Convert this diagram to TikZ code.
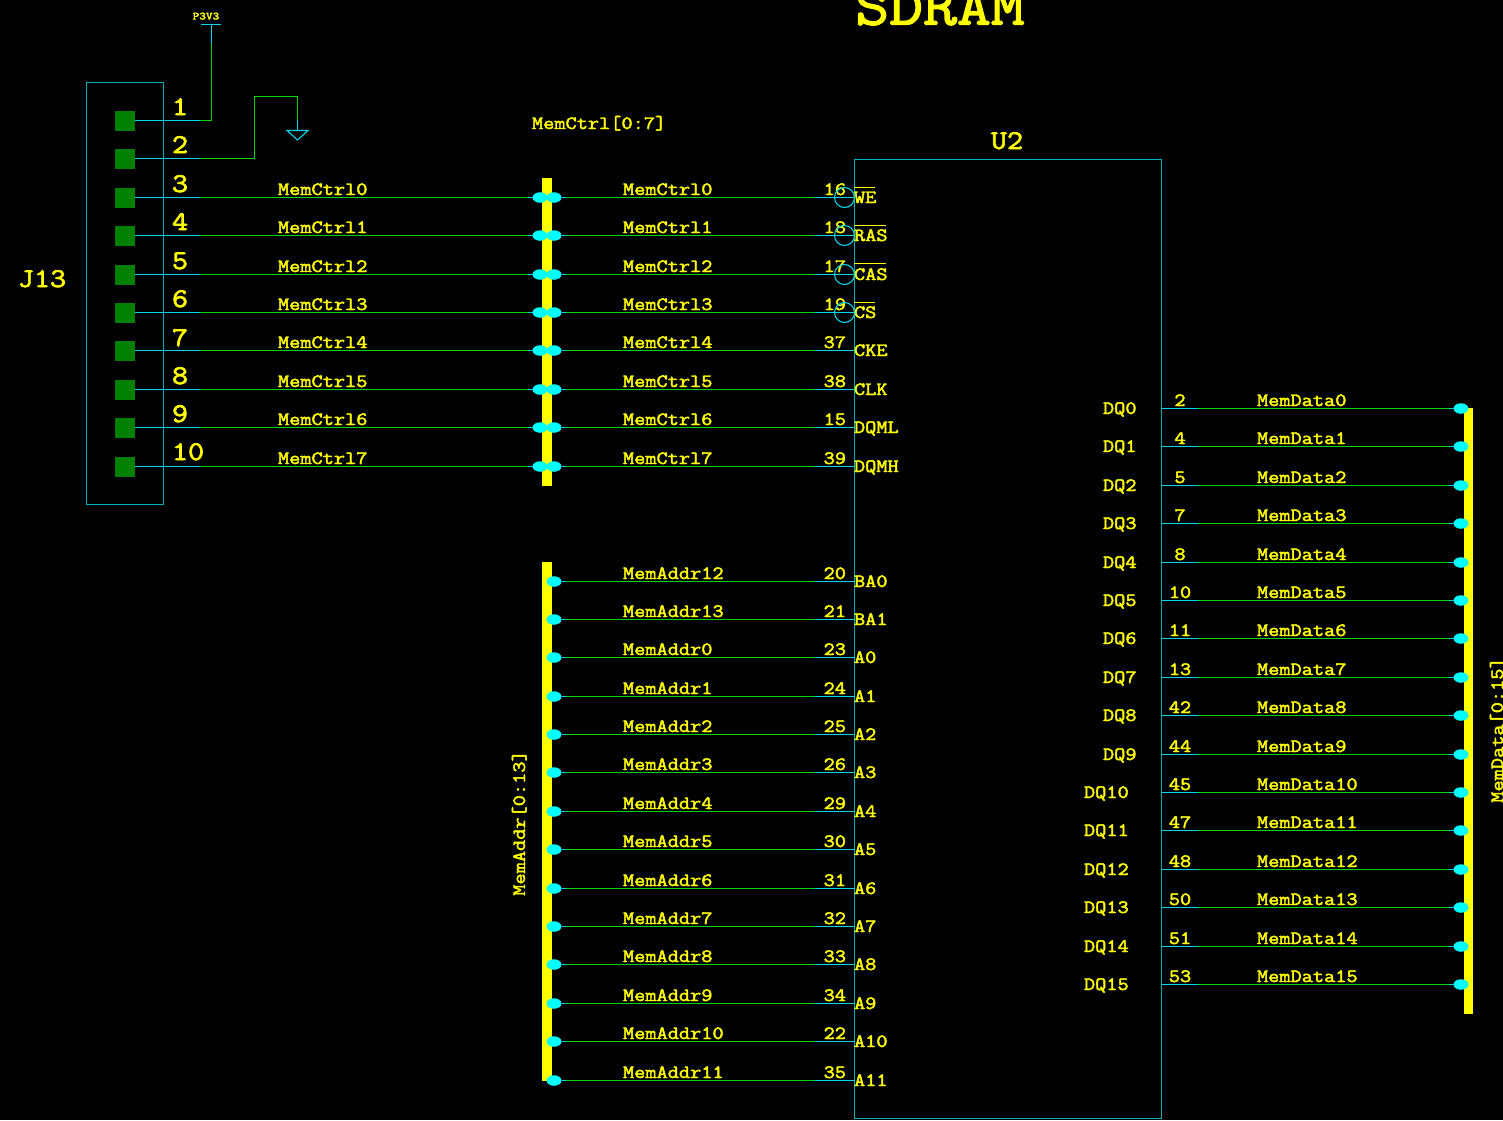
\documentclass[tikz,border=0pt]{standalone}
\usepackage{fontspec}
\usetikzlibrary{shapes.geometric}
\newfontfamily\schfont[FakeStretch=1.155,FakeBold=2.4]{Latin Modern Mono}
\definecolor{wirecy}{RGB}{0,215,235}
\definecolor{wiregr}{RGB}{0,215,0}
\definecolor{boxcy}{RGB}{0,175,185}
\definecolor{padgr}{RGB}{0,128,0}
\definecolor{busye}{RGB}{255,255,0}
\definecolor{blobcy}{RGB}{0,255,255}
\tikzset{
  lbl/.style={inner sep=0pt,outer sep=0pt,text=busye,font=\schfont\fontsize{18.8}{20}\selectfont},
  biglbl/.style={inner sep=0pt,outer sep=0pt,text=busye,font=\schfont\fontsize{27}{28}\selectfont},
  stub/.style={draw=wirecy,line width=1.1pt},
  run/.style={draw=wiregr,line width=1.1pt},
  outline/.style={draw=boxcy,line width=1.1pt,outer sep=0pt},
  pad/.style={fill=padgr,draw=none,minimum size=20pt,inner sep=0pt,outer sep=0pt},
  blob/.style={ellipse,fill=blobcy,draw=none,minimum width=15pt,minimum height=10.5pt,inner sep=0pt,outer sep=0pt},
  bubble/.style={circle,draw=wirecy,line width=1.1pt,minimum size=20pt,inner sep=0pt,outer sep=0pt},
  busbar/.style={rectangle,fill=busye,draw=none,inner sep=0pt,outer sep=0pt}
}
\begin{document}
\begin{tikzpicture}[x=1pt,y=-1pt]
\useasboundingbox[fill=black] (0,0) rectangle (1503,1120);
% titles
\node[biglbl,font=\schfont\fontsize{57}{58}\selectfont,anchor=base] (title) at (940,24.5) {SDRAM};
\node[biglbl,anchor=base] (u2name) at (1007,149) {U2};
\node[biglbl,anchor=base] (j13name) at (42,287) {J13};
% component outlines
\node[outline,rectangle,minimum width=77pt,minimum height=422pt,inner sep=0pt,anchor=north west] (j13) at (86.5,82.5) {};
\node[outline,rectangle,minimum width=307pt,minimum height=959pt,inner sep=0pt,anchor=north west] (u2) at (854.5,159.5) {};
% buses
\node[busbar,minimum width=10pt,minimum height=308pt,anchor=north west] (ctrlbus) at (542,178) {};
\node[busbar,minimum width=10pt,minimum height=519pt,anchor=north west] (addrbus) at (542,562) {};
\node[busbar,minimum width=9pt,minimum height=606pt,anchor=north west] (databus) at (1464,408) {};
\node[lbl,anchor=base west] (ctrlname) at (532,129) {MemCtrl[0:7]};
\node[lbl,rotate=90,anchor=base] (addrname) at (525,823) {MemAddr[0:13]};
\node[lbl,rotate=90,anchor=base] (dataname) at (1503,730) {MemData[0:15]};
% connector pads and pin numbers
\foreach \n/\ty [count=\i from 0] in {1/115,2/153,3/192,4/230,5/269,6/307,7/346,8/384,9/422,10/460}{
  \pgfmathsetmacro{\ry}{floor(120.5+38.4*\i)+0.5}
  \node[pad] (jp\n) at (124.5,\ry) {};
  \node[biglbl,anchor=base west] (jn\n) at (172,\ty) {\n};
}
% power and ground
\node[lbl,font=\schfont\fontsize{11}{12}\selectfont,anchor=base] (p3v3) at (206,19.5) {P3V3};
\coordinate (pwr) at (211.5,24.5);
\coordinate (pwra) at (201,24.5);
\coordinate (pwrb) at (221,24.5);
\coordinate (pwrm) at (211.5,44);
\coordinate (s1) at (200,120.5);
\coordinate (c1) at (211.5,120.5);
\draw[stub] (pwra) -- (pwrb);
\draw[stub] (pwr) -- (pwrm);
\draw[run] (pwrm) -- (c1) -- (s1);
\draw[stub] (s1) -- (jp1.east);
\coordinate (s2) at (200,158.5);
\coordinate (c2a) at (254.5,158.5);
\coordinate (c2b) at (254.5,96.5);
\coordinate (c2c) at (297.5,96.5);
\coordinate (c2d) at (297.5,120);
\coordinate (gnd) at (297.5,130.5);
\coordinate (gnda) at (287,130.5);
\coordinate (gndb) at (308,130.5);
\coordinate (gndc) at (297.5,140);
\draw[stub] (jp2.east) -- (s2);
\draw[run] (s2) -- (c2a) -- (c2b) -- (c2c) -- (c2d);
\draw[stub] (c2d) -- (gnd);
\draw[stub] (gnda) -- (gndb) -- (gndc) -- cycle;
% control rows
\foreach \k/\pin/\nm/\pad [count=\i from 0] in {0/16/WE/3,1/18/RAS/4,2/17/CAS/5,3/19/CS/6,4/37/CKE/7,5/38/CLK/8,6/15/DQML/9,7/39/DQMH/10}{
  \pgfmathsetmacro{\ry}{floor(197.3+38.4*\i)+0.5}
  \node[blob] (cl\k) at (540,\ry) {};
  \node[blob] (cr\k) at (554,\ry) {};
  \coordinate (ca\k) at (200,\ry);
  \coordinate (cb\k) at (528,\ry);
  \coordinate (cc\k) at (566,\ry);
  \coordinate (cd\k) at (815,\ry);
  \coordinate (ce\k) at (854.5,\ry);
  \draw[stub] (jp\pad.east) -- (ca\k);
  \draw[run] (ca\k) -- (cb\k);
  \draw[stub] (cb\k) -- (cl\k);
  \draw[stub] (cr\k) -- (cc\k);
  \draw[run] (cc\k) -- (cd\k);
  \draw[stub] (cd\k) -- (ce\k);
  \node[lbl,anchor=base west] (cln\k) at (278,\ry-2.5) {MemCtrl\k};
  \node[lbl,anchor=base west] (crn\k) at (623,\ry-2.5) {MemCtrl\k};
  \node[lbl,anchor=base east] (cpn\k) at (846,\ry-2.5) {\pin};
  \node[lbl,anchor=base west] (cpin\k) at (854,\ry+5.5) {\nm};
}
% active-low bubbles and bars
\foreach \k in {0,1,2,3}{
  \pgfmathsetmacro{\ry}{floor(197.3+38.4*\k)+0.5}
  \node[bubble] (bb\k) at (844.5,\ry) {};
}
\foreach \k/\w in {0/21,1/32,2/32,3/21}{
  \pgfmathsetmacro{\ry}{floor(187+38.4*\k)+0.5}
  \coordinate (ba\k) at (854,\ry);
  \coordinate (bz\k) at (854+\w,\ry);
  \draw[draw=busye,line width=1pt] (ba\k) -- (bz\k);
}
% address rows
\foreach \k/\adr/\pin/\nm [count=\i from 0] in {0/12/20/BA0,1/13/21/BA1,2/0/23/A0,3/1/24/A1,4/2/25/A2,5/3/26/A3,6/4/29/A4,7/5/30/A5,8/6/31/A6,9/7/32/A7,10/8/33/A8,11/9/34/A9,12/10/22/A10,13/11/35/A11}{
  \pgfmathsetmacro{\ry}{floor(581+38.4*\i)+0.5}
  \node[blob] (ar\k) at (554,\ry) {};
  \coordinate (ac\k) at (566,\ry);
  \coordinate (ad\k) at (815,\ry);
  \coordinate (ae\k) at (854.5,\ry);
  \draw[stub] (ar\k) -- (ac\k);
  \draw[run] (ac\k) -- (ad\k);
  \draw[stub] (ad\k) -- (ae\k);
  \node[lbl,anchor=base west] (arn\k) at (623,\ry-2.5) {MemAddr\adr};
  \node[lbl,anchor=base east] (apn\k) at (846,\ry-2.5) {\pin};
  \node[lbl,anchor=base west] (apin\k) at (854,\ry+5.5) {\nm};
}
% data rows
\foreach \k/\pin [count=\i from 0] in {0/2,1/4,2/5,3/7,4/8,5/10,6/11,7/13,8/42,9/44,10/45,11/47,12/48,13/50,14/51,15/53}{
  \pgfmathsetmacro{\ry}{floor(408.5+38.4*\i)+0.5}
  \node[blob] (dr\k) at (1461,\ry) {};
  \coordinate (da\k) at (1161.5,\ry);
  \coordinate (db\k) at (1198,\ry);
  \coordinate (dc\k) at (1449,\ry);
  \draw[stub] (da\k) -- (db\k);
  \draw[run] (db\k) -- (dc\k);
  \draw[stub] (dc\k) -- (dr\k);
  \node[lbl,anchor=base] (dpn\k) at (1180,\ry-2.5) {\pin};
  \node[lbl,anchor=base west] (drn\k) at (1257,\ry-2.5) {MemData\k};
  \pgfmathsetmacro{\dx}{\k<10 ? 1103 : 1084}
  \node[lbl,anchor=base west] (dpin\k) at (\dx,\ry+5.5) {DQ\k};
}
\end{tikzpicture}
\end{document}
